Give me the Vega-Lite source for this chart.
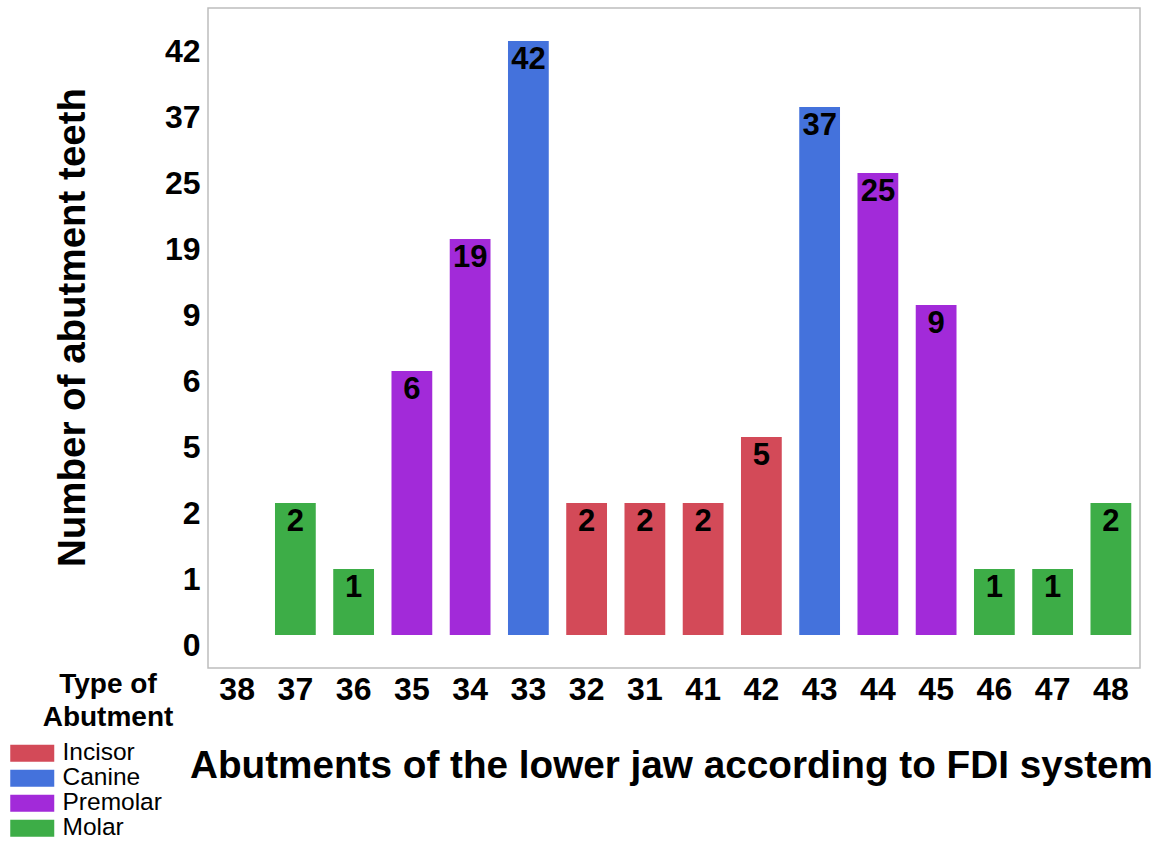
{
  "$schema": "https://vega.github.io/schema/vega-lite/v6.json",
  "width": 932,
  "height": 660,
  "autosize": {"type": "none"},
  "padding": {"left": 208, "top": 8, "right": 24, "bottom": 173},
  "config": {
    "font": "Liberation Sans",
    "view": {"stroke": "#bdbdbd", "strokeWidth": 1.5},
    "axis": {"grid": false, "domain": false, "ticks": false}
  },
  "data": {
    "values": [
      {"tooth": 37, "count": 2, "type": "Molar"},
      {"tooth": 36, "count": 1, "type": "Molar"},
      {"tooth": 35, "count": 6, "type": "Premolar"},
      {"tooth": 34, "count": 19, "type": "Premolar"},
      {"tooth": 33, "count": 42, "type": "Canine"},
      {"tooth": 32, "count": 2, "type": "Incisor"},
      {"tooth": 31, "count": 2, "type": "Incisor"},
      {"tooth": 41, "count": 2, "type": "Incisor"},
      {"tooth": 42, "count": 5, "type": "Incisor"},
      {"tooth": 43, "count": 37, "type": "Canine"},
      {"tooth": 44, "count": 25, "type": "Premolar"},
      {"tooth": 45, "count": 9, "type": "Premolar"},
      {"tooth": 46, "count": 1, "type": "Molar"},
      {"tooth": 47, "count": 1, "type": "Molar"},
      {"tooth": 48, "count": 2, "type": "Molar"}
    ]
  },
  "encoding": {
    "x": {
      "field": "tooth",
      "type": "ordinal",
      "scale": {
        "domain": [38, 37, 36, 35, 34, 33, 32, 31, 41, 42, 43, 44, 45, 46, 47, 48],
        "paddingInner": 0.3,
        "paddingOuter": 0.15
      },
      "axis": {
        "labelAngle": 0,
        "labelFontSize": 32,
        "labelFontWeight": "bold",
        "labelColor": "black",
        "labelPadding": 6,
        "title": "Abutments of the lower jaw according to FDI system",
        "titleFontSize": 38.7,
        "titleFontWeight": "bold",
        "titleColor": "black",
        "titleX": 463,
        "titleY": 109,
        "titleBaseline": "alphabetic"
      }
    },
    "y": {
      "field": "count",
      "type": "ordinal",
      "scale": {
        "type": "point",
        "domain": [42, 37, 25, 19, 9, 6, 5, 2, 1, 0],
        "padding": 0.5
      },
      "axis": {
        "labelFontSize": 32,
        "labelFontWeight": "bold",
        "labelColor": "black",
        "labelPadding": 8,
        "labelOffset": 10,
        "title": "Number of abutment teeth",
        "titleFontSize": 38.5,
        "titleFontWeight": "bold",
        "titleColor": "black",
        "titleX": -136,
        "titleY": 319,
        "titleAlign": "center",
        "titleBaseline": "middle"
      }
    }
  },
  "layer": [
    {
      "mark": {"type": "bar", "orient": "vertical"},
      "encoding": {
        "y2": {"datum": 0},
        "color": {
          "field": "type",
          "type": "nominal",
          "scale": {
            "domain": ["Incisor", "Canine", "Premolar", "Molar"],
            "range": ["#d34a58", "#4472dc", "#a22ad9", "#3dad47"]
          },
          "legend": {
            "orient": "none",
            "legendX": -188,
            "legendY": 663,
            "padding": 0,
            "title": ["Type of", "Abutment"],
            "titleFontSize": 28,
            "titleFontWeight": "bold",
            "titleColor": "black",
            "titleAnchor": "middle",
            "titleAlign": "center",
            "titleLineHeight": 33,
            "titlePadding": 9,
            "labelFontSize": 24.5,
            "labelColor": "black",
            "labelOffset": 18,
            "symbolType": "M-2,-0.78H2V0.78H-2Z",
            "symbolSize": 484,
            "symbolStrokeWidth": 0,
            "rowPadding": 0,
            "encode": {"title": {"update": {"dx": {"value": 17}}}}
          }
        }
      }
    },
    {
      "mark": {
        "type": "text",
        "baseline": "top",
        "dy": 4,
        "fontSize": 31,
        "fontWeight": "bold",
        "color": "black"
      },
      "encoding": {"text": {"field": "count"}}
    }
  ]
}
